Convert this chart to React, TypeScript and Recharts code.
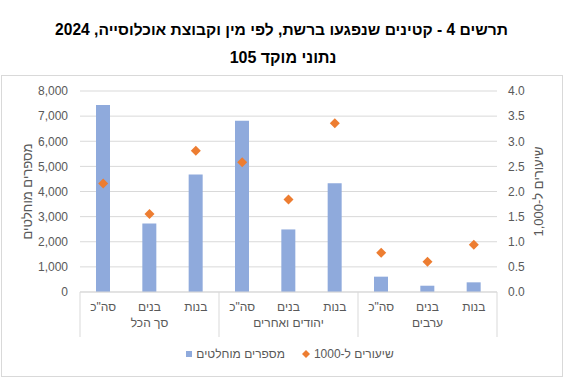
import React from 'react';
import { ComposedChart, Bar, Line, XAxis, YAxis, CartesianGrid, Legend } from 'recharts';

const titleLines = ['תרשים 4 - קטינים שנפגעו ברשת, לפי מין וקבוצת אוכלוסייה, 2024', 'נתוני מוקד 105'];
const categories = ['סה"כ', 'בנים', 'בנות', 'סה"כ', 'בנים', 'בנות', 'סה"כ', 'בנים', 'בנות'];
const groups = ['סך הכל', 'יהודים ואחרים', 'ערבים'];
const absoluteNumbers = [7440, 2730, 4680, 6820, 2490, 4330, 610, 250, 385];
const ratesPer1000 = [2.16, 1.55, 2.81, 2.58, 1.84, 3.36, 0.78, 0.6, 0.94];
const leftTicks = [0, 1000, 2000, 3000, 4000, 5000, 6000, 7000, 8000];
const rightTicks = [0, 0.5, 1, 1.5, 2, 2.5, 3, 3.5, 4];
const barSeriesName = 'מספרים מוחלטים';
const rateSeriesName = 'שיעורים ל-1000';
const leftAxisTitle = 'מספרים מוחלטים';
const rightAxisTitle = 'שיעורים ל-1,000';

const data = categories.map((c, i) => ({
  key: String(i),
  cat: c,
  abs: absoluteNumbers[i],
  rate: ratesPer1000[i],
}));

const FONT = '"Liberation Sans", Arial, sans-serif';
const GREY = '#595959';
const GRID = '#D9D9D9';
const BLUE = '#8FAADC';
const ORANGE = '#ED7D31';

const CategoryTick = (props: any) => {
  const { x, y, payload } = props;
  const i: number = payload.index;
  const half: number = payload.offset ?? 23;
  const groupSize = 3;
  const els: any[] = [];
  els.push(
    <text key="c" x={x} y={y + 15} textAnchor="middle" dominantBaseline="central" fill={GREY} fontSize={12} fontFamily={FONT}>
      {categories[i]}
    </text>
  );
  if (i % groupSize === 1) {
    els.push(
      <text key="g" x={x} y={y + 31} textAnchor="middle" dominantBaseline="central" fill={GREY} fontSize={12} fontFamily={FONT}>
        {groups[Math.floor(i / groupSize)]}
      </text>
    );
  }
  if (i % groupSize === 0) {
    els.push(<line key="s" x1={x - half} x2={x - half} y1={y} y2={y + 45} stroke={GRID} strokeWidth={1} />);
  }
  if (i === categories.length - 1) {
    els.push(<line key="e" x1={x + half} x2={x + half} y1={y} y2={y + 45} stroke={GRID} strokeWidth={1} />);
  }
  return <g>{els}</g>;
};

const Diamond = (props: any) => {
  const { cx, cy } = props;
  if (cx == null || cy == null) return null;
  const r = 5;
  return <polygon points={`${cx},${cy - r} ${cx + r},${cy} ${cx},${cy + r} ${cx - r},${cy}`} fill={ORANGE} />;
};

const LegendContent = () => (
  <div style={{ display: 'flex', justifyContent: 'center', alignItems: 'center', fontFamily: FONT, fontSize: 12, color: GREY }}>
    <div style={{ display: 'flex', alignItems: 'center' }}>
      <span style={{ width: 6, height: 6, background: BLUE, display: 'inline-block', marginRight: 4 }} />
      <span dir="rtl">{barSeriesName}</span>
    </div>
    <div style={{ display: 'flex', alignItems: 'center', marginLeft: 17 }}>
      <svg width={8} height={8} style={{ marginRight: 4 }}>
        <polygon points="4,0 8,4 4,8 0,4" fill={ORANGE} />
      </svg>
      <span dir="rtl">{rateSeriesName}</span>
    </div>
  </div>
);

const AxisTitle = (dx: number, text: string) => (props: any) => {
  const vb = props.viewBox;
  const cx = vb.x + dx;
  const cy = vb.y + vb.height / 2;
  return (
    <text x={cx} y={cy} transform={`rotate(-90, ${cx}, ${cy})`} textAnchor="middle" dominantBaseline="central" fill={GREY} fontSize={13} fontFamily={FONT}>
      {text}
    </text>
  );
};

export default function App() {
  return (
    <div style={{ position: 'absolute', left: 0, top: 0, width: 580, height: 386, background: '#fff' }}>
      <div style={{ position: 'absolute', left: 1, top: 75, width: 560, height: 300, border: `1px solid ${GRID}` }} />
      {titleLines.map((t, k) => (
        <div key={k} dir="rtl" style={{ position: 'absolute', left: 0, width: k === 0 ? 563 : 566, top: k === 0 ? 20 : 48, lineHeight: '20px', textAlign: 'center', fontFamily: FONT, fontWeight: 'bold', fontSize: k === 0 ? 15.6 : 16, color: '#000' }}>
          {t}
        </div>
      ))}
      <div style={{ position: 'absolute', left: 0, top: 0 }}>
        <ComposedChart width={580} height={386} data={data} margin={{ top: 91, right: 23, bottom: 44, left: 20 }}>
          <CartesianGrid yAxisId="left" vertical={false} stroke={GRID} />
          <XAxis dataKey="key" height={50} tickSize={0} tickMargin={0} axisLine={{ stroke: GRID }} tickLine={false} tick={<CategoryTick />} interval={0} />
          <YAxis yAxisId="left" orientation="left" width={60} domain={[0, 8000]} ticks={leftTicks} axisLine={false} tickLine={false} tickMargin={6}
            tickFormatter={(v: number) => v.toLocaleString('en-US')} tick={{ fill: GREY, fontSize: 12, fontFamily: FONT }}
            label={{ content: AxisTitle(7, leftAxisTitle) }} />
          <YAxis yAxisId="right" orientation="right" width={60} domain={[0, 4]} ticks={rightTicks} axisLine={false} tickLine={false} tickMargin={5}
            tickFormatter={(v: number) => v.toFixed(1)} tick={{ fill: GREY, fontSize: 12, fontFamily: FONT }}
            label={{ content: AxisTitle(41, rightAxisTitle) }} />
          <Bar yAxisId="left" dataKey="abs" name={barSeriesName} fill={BLUE} barSize={14} isAnimationActive={false} />
          <Line yAxisId="right" dataKey="rate" name={rateSeriesName} stroke="none" strokeWidth={0} dot={<Diamond />} activeDot={false} isAnimationActive={false} />
          <Legend verticalAlign="middle" layout="horizontal" content={<LegendContent />} wrapperStyle={{ top: 347, left: 0, width: 580, height: 16 }} />
        </ComposedChart>
      </div>
    </div>
  );
}
